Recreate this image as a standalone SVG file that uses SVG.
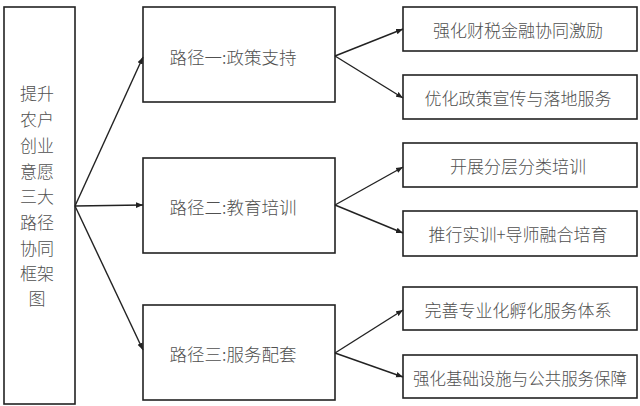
<svg xmlns="http://www.w3.org/2000/svg" width="640" height="406" viewBox="0 0 640 406">
<defs>
<style>
.box{fill:#fff;stroke:#222;stroke-width:1.6}
.t{font-family:"Noto Sans CJK SC","Noto Sans",sans-serif;font-size:17px;font-weight:300;fill:#505050;text-anchor:middle;dominant-baseline:central}
.m{font-size:17.5px}
.c{fill:none;stroke:#222;stroke-width:1.4;marker-end:url(#ah)}
</style>
<marker id="ah" viewBox="0 0 10 10" refX="10" refY="5" markerWidth="7" markerHeight="7" orient="auto" markerUnits="userSpaceOnUse">
<path d="M0,1 L10,5 L0,9 z" fill="#222"/>
</marker>
</defs>
<rect width="640" height="406" fill="#fff"/>
<g id="root">
<rect class="box" x="4" y="7" width="71" height="397"/>
<text class="t"><tspan x="37" y="92">提升</tspan><tspan x="37" y="118">农户</tspan><tspan x="37" y="144">创业</tspan><tspan x="37" y="170">意愿</tspan><tspan x="37" y="195">三大</tspan><tspan x="37" y="221">路径</tspan><tspan x="37" y="247">协同</tspan><tspan x="37" y="272">框架</tspan><tspan x="37" y="297">图</tspan></text>
</g>
<g id="p1"><rect class="box" x="143" y="7" width="192" height="95"/><text class="t m" x="233" y="56">路径一:政策支持</text></g>
<g id="p2"><rect class="box" x="143" y="158" width="192" height="95"/><text class="t m" x="233" y="206">路径二:教育培训</text></g>
<g id="p3"><rect class="box" x="143" y="305" width="192" height="95"/><text class="t m" x="233" y="353">路径三:服务配套</text></g>
<g id="a1"><rect class="box" x="403" y="7" width="234" height="44"/><text class="t" x="518" y="29">强化财税金融协同激励</text></g>
<g id="a2"><rect class="box" x="403" y="75" width="234" height="44"/><text class="t" x="518" y="97">优化政策宣传与落地服务</text></g>
<g id="b1"><rect class="box" x="403" y="143" width="234" height="44"/><text class="t" x="518" y="165">开展分层分类培训</text></g>
<g id="b2"><rect class="box" x="403" y="211" width="234" height="45"/><text class="t" x="518" y="233">推行实训+导师融合培育</text></g>
<g id="c1"><rect class="box" x="403" y="287" width="234" height="43"/><text class="t" x="518" y="309">完善专业化孵化服务体系</text></g>
<g id="c2"><rect class="box" x="403" y="355" width="234" height="43"/><text class="t" x="520" y="377" textLength="214" lengthAdjust="spacingAndGlyphs">强化基础设施与公共服务保障</text></g>
<g id="connectors">
<line class="c" x1="75" y1="206" x2="143" y2="57"/>
<line class="c" x1="75" y1="206" x2="143" y2="205"/>
<line class="c" x1="75" y1="206" x2="143" y2="350"/>
<line class="c" x1="335" y1="56" x2="403" y2="29"/>
<line class="c" x1="335" y1="56" x2="403" y2="98"/>
<line class="c" x1="335" y1="205" x2="403" y2="167"/>
<line class="c" x1="335" y1="205" x2="403" y2="233"/>
<line class="c" x1="335" y1="353" x2="403" y2="310"/>
<line class="c" x1="335" y1="353" x2="403" y2="377"/>
</g>
</svg>
